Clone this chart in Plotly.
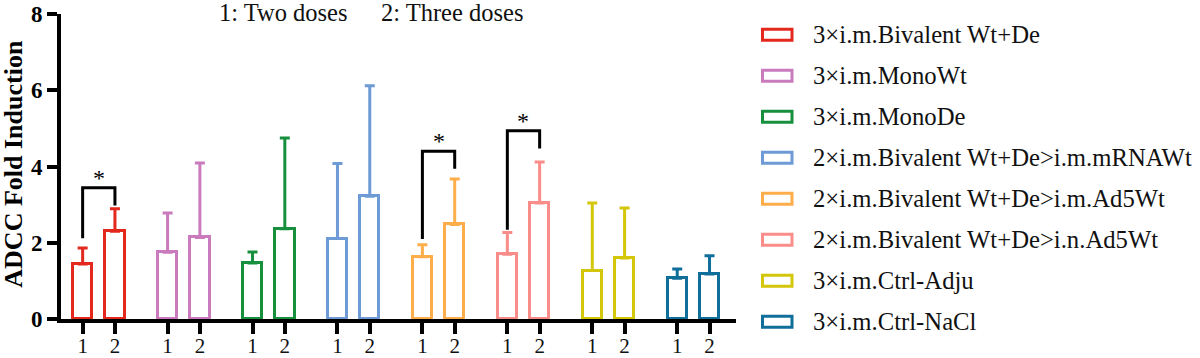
import plotly.graph_objects as go

groups = ["3×i.m.Bivalent Wt+De", "3×i.m.MonoWt", "3×i.m.MonoDe",
          "2×i.m.Bivalent Wt+De>i.m.mRNAWt", "2×i.m.Bivalent Wt+De>i.m.Ad5Wt",
          "2×i.m.Bivalent Wt+De>i.n.Ad5Wt", "3×i.m.Ctrl-Adju", "3×i.m.Ctrl-NaCl"]
colors = ["#E3281E", "#C97BBE", "#17903E", "#6E9AD6", "#FDAE4B", "#FA8D8A", "#D4C60A", "#106E9A"]
dose_labels = ["1", "2"]
means_two = [1.44, 1.75, 1.47, 2.11, 1.63, 1.70, 1.27, 1.07]
means_three = [2.30, 2.14, 2.37, 3.22, 2.48, 3.04, 1.60, 1.18]
err_top_two = [1.86, 2.78, 1.76, 4.08, 1.95, 2.27, 3.04, 1.31]
err_top_three = [2.89, 4.09, 4.75, 6.12, 3.67, 4.12, 2.91, 1.66]
# significance brackets: group index, left leg bottom, bracket top, right leg bottom
sig_groups = [0, 4, 5]
sig_left = [2.12, 2.10, 2.34]
sig_top = [3.44, 4.40, 4.94]
sig_right = [2.98, 3.94, 4.47]

GAP = 2.63
FONT = "Liberation Serif"

fig = go.Figure()
tickvals, ticktext = [], []
for g, (name, c) in enumerate(zip(groups, colors)):
    xs = [g * GAP, g * GAP + 1]
    ys = [means_two[g], means_three[g]]
    errs = [err_top_two[g] - means_two[g], err_top_three[g] - means_three[g]]
    fig.add_trace(go.Bar(
        x=xs, y=ys, width=0.6, name=name, showlegend=False,
        marker=dict(color="white", line=dict(color=c, width=3)),
        error_y=dict(type="data", symmetric=False, array=errs, arrayminus=[0, 0],
                     color=c, thickness=3, width=5),
    ))
    tickvals += xs
    ticktext += dose_labels

for g, yl, yt, yr in zip(sig_groups, sig_left, sig_top, sig_right):
    x0, x1 = g * GAP, g * GAP + 1
    fig.add_trace(go.Scatter(x=[x0, x0, x1, x1], y=[yl, yt, yt, yr], mode="lines",
                             line=dict(color="black", width=3), showlegend=False,
                             hoverinfo="skip"))
    fig.add_annotation(x=(x0 + x1) / 2, y=yt, text="*", showarrow=False, yshift=10,
                       font=dict(family=FONT, size=24, color="black"))

L, PW, T, PH = 61, 675, 14.3, 305
def px(x):
    return (x - L) / PW
def py(y):
    return (T + PH - y) / PH

# custom legend (paper coordinates)
for i, (name, c) in enumerate(zip(groups, colors)):
    cy = 35 + i * 41.0
    fig.add_shape(type="rect", xref="paper", yref="paper",
                  x0=px(762.5), x1=px(792), y0=py(cy - 5.5), y1=py(cy + 5.5),
                  line=dict(color=c, width=3), fillcolor="white")
    fig.add_annotation(xref="paper", yref="paper", x=px(811), y=py(cy), text=name,
                       showarrow=False, xanchor="left", yanchor="middle",
                       font=dict(family=FONT, size=24.7, color="#111"))

fig.add_annotation(xref="paper", yref="paper", x=px(217), y=py(13), text="1: Two doses",
                   showarrow=False, xanchor="left", yanchor="middle",
                   font=dict(family=FONT, size=24.5, color="#111"))
fig.add_annotation(xref="paper", yref="paper", x=px(379), y=py(13), text="2: Three doses",
                   showarrow=False, xanchor="left", yanchor="middle",
                   font=dict(family=FONT, size=24.5, color="#111"))
fig.add_annotation(xref="paper", yref="paper", x=px(14), y=py(164), text="<b>ADCC Fold Induction</b>",
                   textangle=-90, showarrow=False, xanchor="center", yanchor="middle",
                   font=dict(family=FONT, size=26, color="black"))

fig.update_layout(
    width=1200, height=358, plot_bgcolor="white", paper_bgcolor="white",
    margin=dict(l=61, r=464, t=14.3, b=38.7, autoexpand=False), bargap=0,
    xaxis=dict(range=[-0.67, 20.23], tickvals=tickvals, ticktext=ticktext,
               showline=True, linecolor="black", linewidth=4, ticks="outside",
               ticklen=11, tickwidth=4, tickcolor="black", showgrid=False, zeroline=False,
               automargin=False, ticklabelstandoff=-6,
               tickfont=dict(family=FONT, size=21, color="#111")),
    yaxis=dict(range=[0, 8], tickvals=[0, 2, 4, 6, 8], showline=True, linecolor="black",
               linewidth=4, ticks="outside", ticklen=10, tickwidth=4, tickcolor="black",
               showgrid=False, zeroline=False, automargin=False,
               tickfont=dict(family=FONT, size=23, color="black", weight="bold")),
)
fig.write_html("out.html", config={"displayModeBar": False},
               post_script="document.body.style.margin='0px';document.body.style.overflow='hidden';")
